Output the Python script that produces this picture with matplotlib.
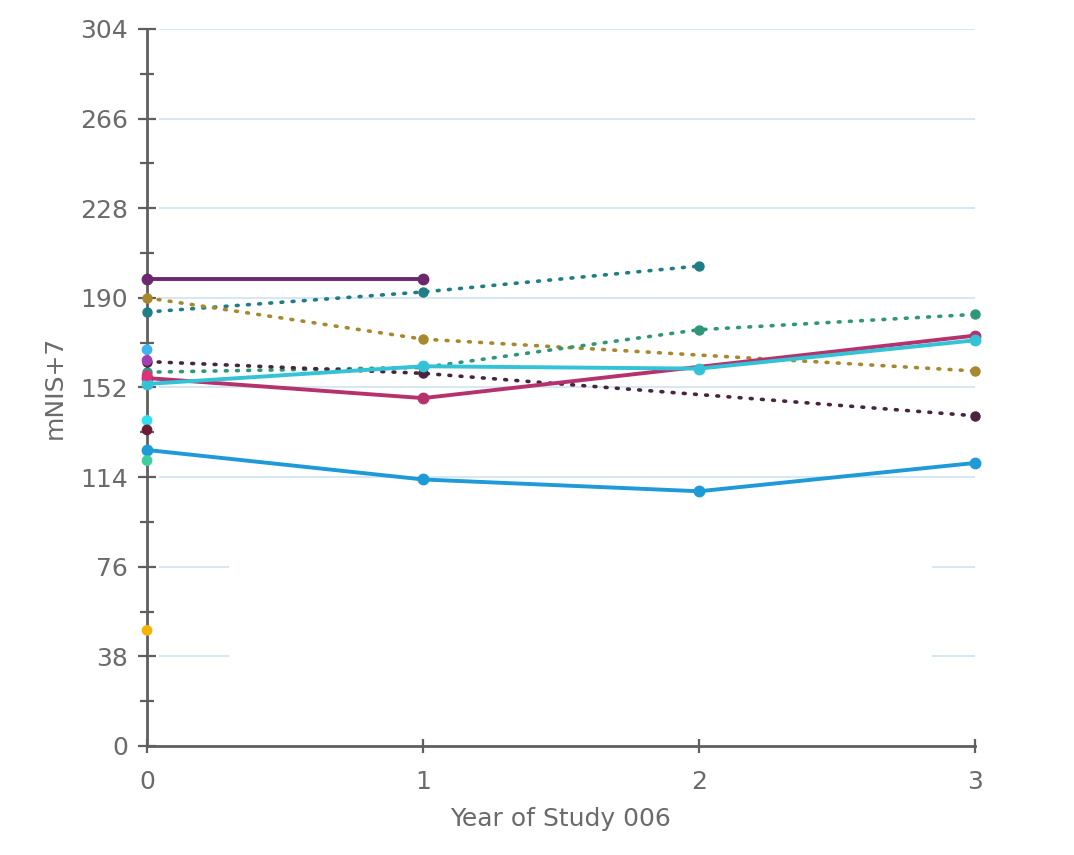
import matplotlib

matplotlib.use("Agg")
import numpy as np
import matplotlib.pyplot as plt
from matplotlib.ticker import MultipleLocator

# --- data ------------------------------------------------------------------

years = [0, 1, 2, 3]

# solid lines (patients with full follow-up)
purple_solid = [198, 198, np.nan, np.nan]
crimson_solid = [156, 147.5, np.nan, 174]
cyan_solid = [153.5, 161, 160, 172]
blue_solid = [125.5, 113, 108, 120]

# dotted lines
teal_dotted = [184, 192.5, 203.5, np.nan]
gold_dotted = [190, 172.5, np.nan, 159]
green_dotted = [158.5, 160.5, 176.5, 183]
plum_dotted = [163, 158, np.nan, 140]

# baseline-only points
single_vals = [49, 168, 163.5, 157, 138, 134, 121]
single_colors = ["#f4b400", "#3db5ee", "#a33fb3", "#e0307a",
                 "#33e0f0", "#6a1d33", "#3fcf9f"]

yticks = [0, 38, 76, 114, 152, 190, 228, 266, 304]

# --- styling ---------------------------------------------------------------

_AXIS = "#5f5f5f"
_TEXT = "#6a6a6a"
_GRID = "#d4e8f4"

plt.rcParams.update({
    "font.family": ["DejaVu Sans"],
    "font.size": 18,
})

fig = plt.figure(figsize=(10.74, 8.55), dpi=100)
ax = fig.add_axes([0.1369, 0.1275, 0.7709, 0.8386])
ax.set_xlim(0, 3)
ax.set_ylim(0, 304)

# light blue grid, partly blanked out near the bottom like the source image
for y in yticks[1:]:
    if y in (38, 76):
        ax.axhline(y, xmin=0.016, xmax=0.098, color=_GRID, lw=1.4, zorder=0)
        ax.axhline(y, xmin=0.949, xmax=1.0, color=_GRID, lw=1.4, zorder=0)
    else:
        ax.axhline(y, xmin=0.016, xmax=1.0, color=_GRID, lw=1.4, zorder=0)


def _solid(vals, color):
    x = np.array(years, dtype=float)
    v = np.array(vals, dtype=float)
    m = ~np.isnan(v)
    ax.plot(x[m], v[m], color=color, lw=2.8, marker="o", ms=7.5,
            solid_capstyle="round", zorder=3, clip_on=False)


def _dotted(vals, color):
    x = np.array(years, dtype=float)
    v = np.array(vals, dtype=float)
    m = ~np.isnan(v)
    ax.plot(x[m], v[m], color=color, lw=2.6, ls=(0, (0.5, 2.6)),
            dash_capstyle="round", marker="o", ms=6.5, zorder=3,
            clip_on=False)


_dotted(teal_dotted, "#1f7d86")
_dotted(gold_dotted, "#a8882c")
_dotted(green_dotted, "#2e9778")
_dotted(plum_dotted, "#48253f")

_solid(purple_solid, "#6b286f")
_solid(crimson_solid, "#b6326c")
_solid(cyan_solid, "#33c2d6")
_solid(blue_solid, "#1e9ad8")

ax.scatter([0] * len(single_vals), single_vals, s=60, c=single_colors,
           zorder=4, linewidths=0, clip_on=False)

# axes
for side in ("top", "right"):
    ax.spines[side].set_visible(False)
for side in ("left", "bottom"):
    ax.spines[side].set_color(_AXIS)
    ax.spines[side].set_linewidth(2)
    ax.spines[side].set_zorder(2)

ax.set_yticks(yticks)
ax.yaxis.set_minor_locator(MultipleLocator(19))
ax.set_xticks(years)
ax.tick_params(axis="both", which="both", direction="inout", color=_AXIS,
               width=1.6, labelcolor=_TEXT, labelsize=18)
ax.tick_params(axis="y", which="major", length=13, pad=7)
ax.tick_params(axis="y", which="minor", length=10)
ax.tick_params(axis="x", which="major", length=10, pad=12)

ax.set_xlabel("Year of Study 006", color=_TEXT, fontsize=18, labelpad=10)
ax.set_ylabel("mNIS+7", color=_TEXT, fontsize=18, labelpad=10)

fig.savefig("out.png", dpi=100, facecolor="white")
plt.close(fig)
